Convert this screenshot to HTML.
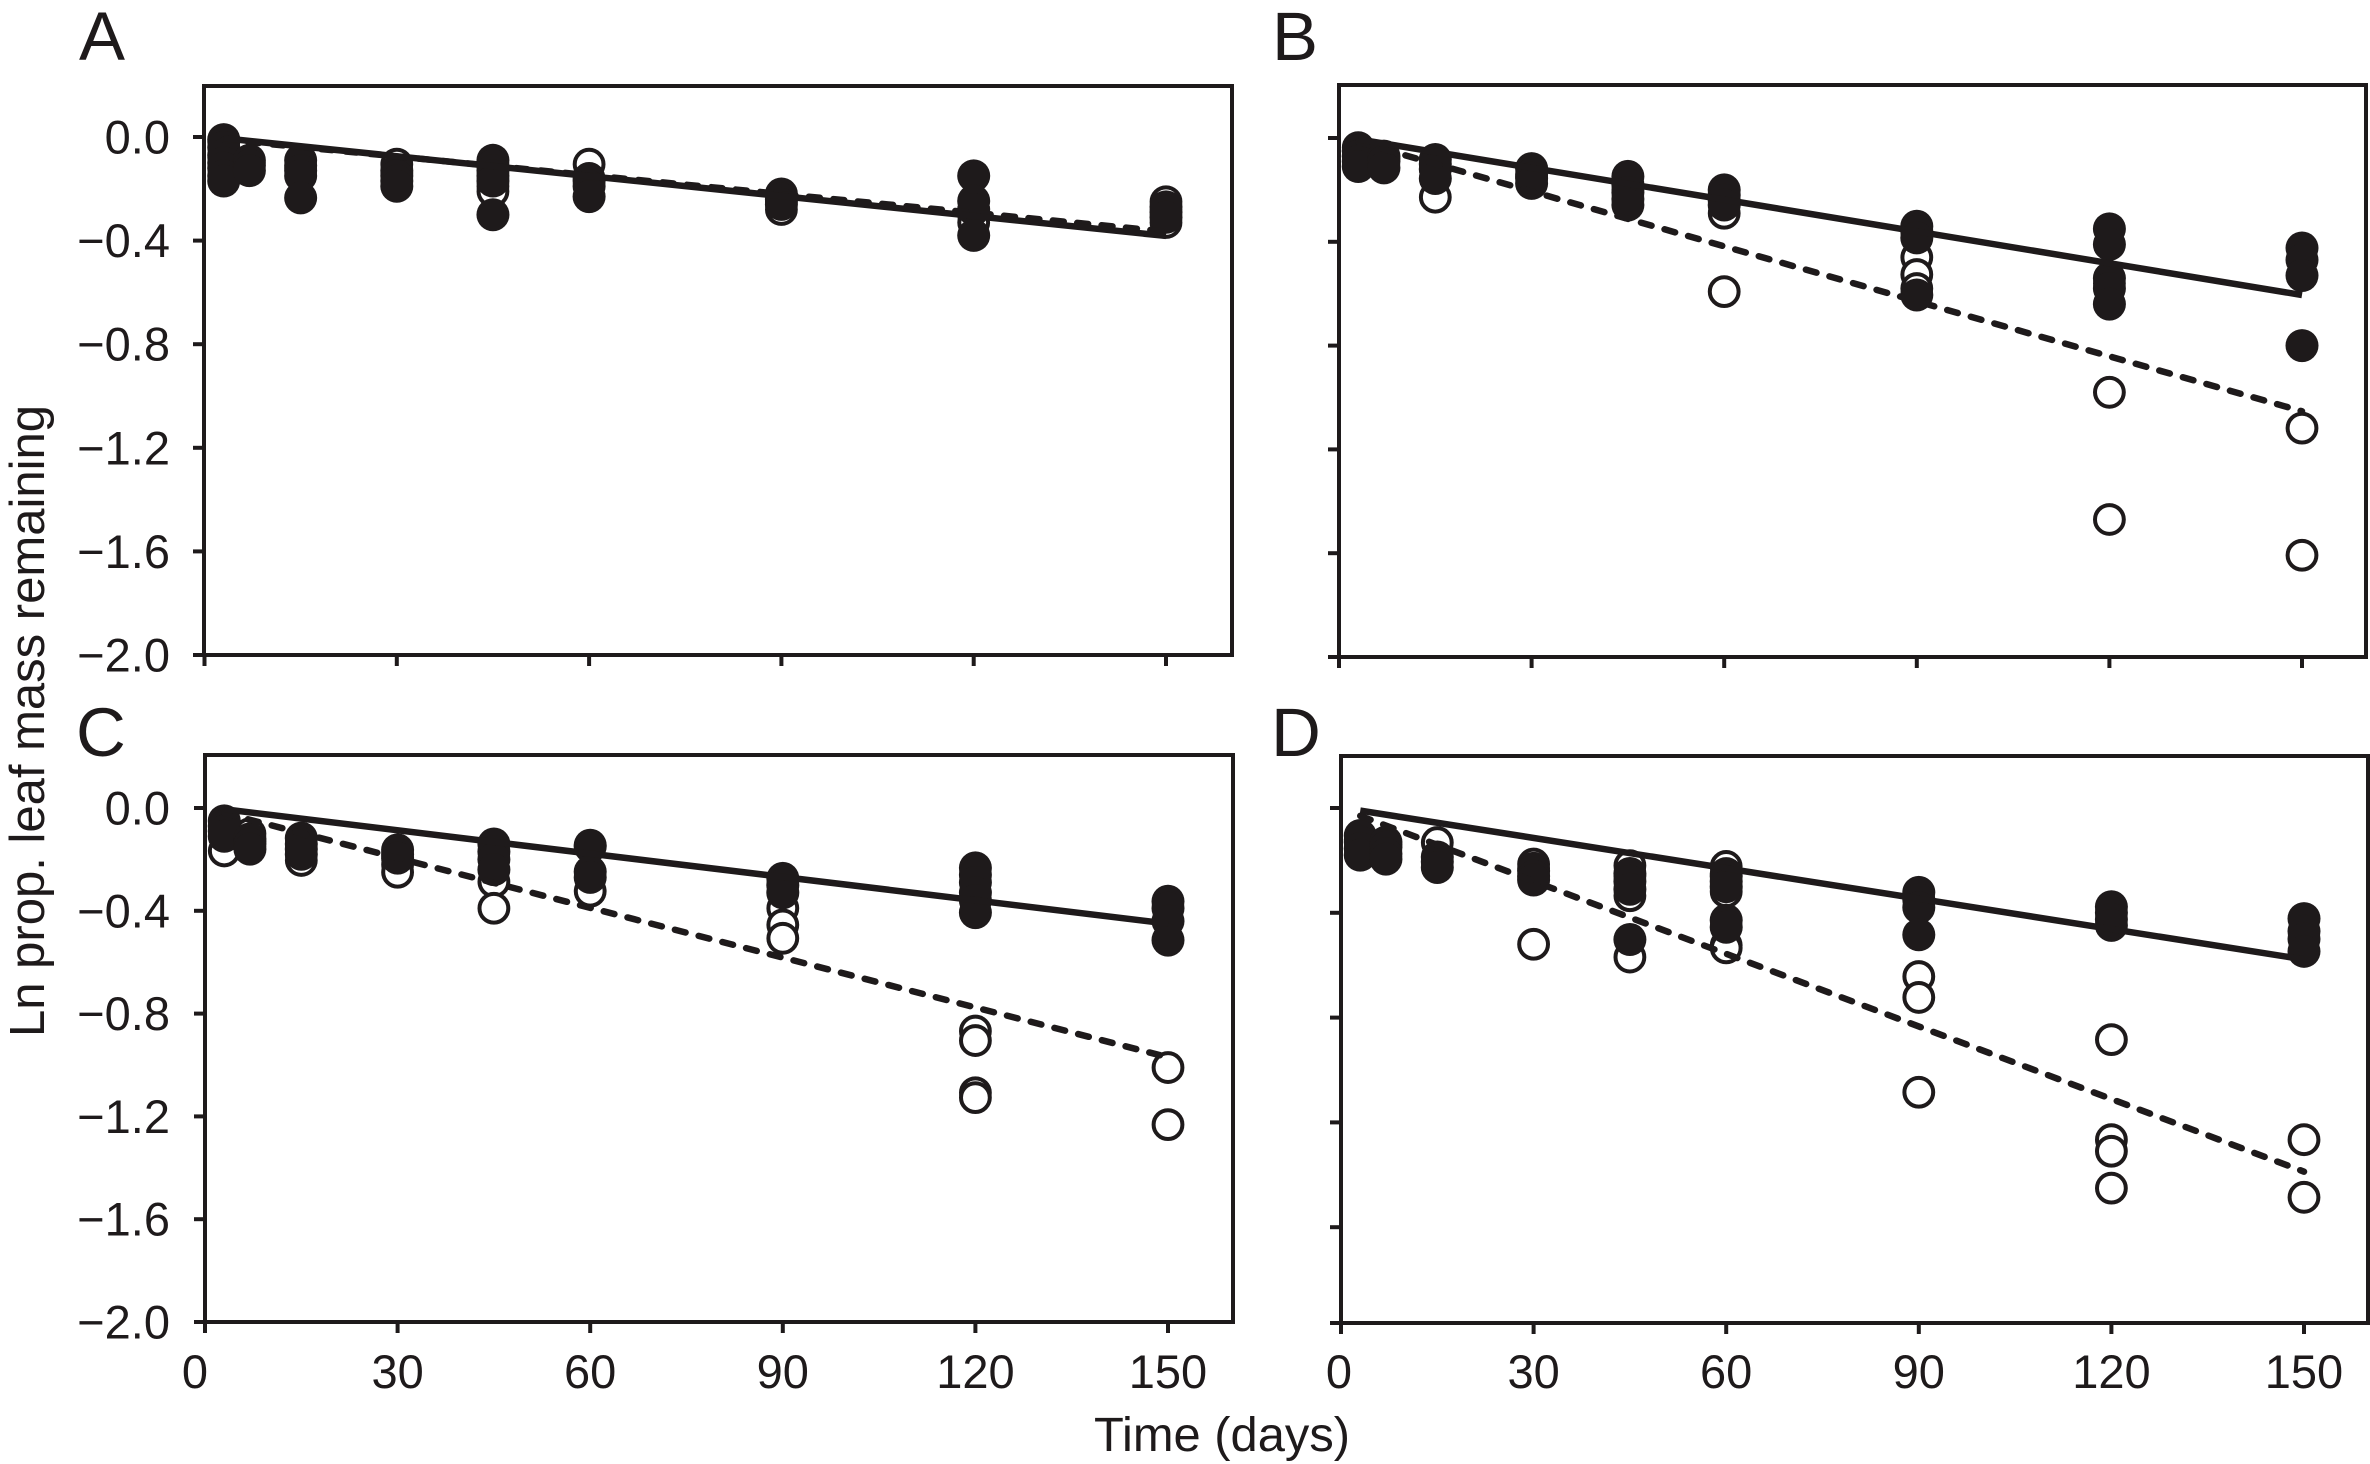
<!DOCTYPE html>
<html lang="en">
<head>
<meta charset="utf-8">
<title>Ln proportion of leaf mass remaining over time</title>
<style>
html,body{margin:0;padding:0;background:#fff;width:2370px;height:1464px;overflow:hidden}
svg{display:block;font-family:"Liberation Sans",Arial,sans-serif;fill:#1e1a1b}
</style>
</head>
<body>
<svg id="chart" xmlns="http://www.w3.org/2000/svg" width="2370" height="1464" viewBox="0 0 2370 1464">
  <rect x="0" y="0" width="2370" height="1464" fill="#fff"/>
  <text x="79" y="60" font-size="69">A</text>
  <text x="1272" y="60" font-size="69">B</text>
  <text x="76" y="756" font-size="69">C</text>
  <text x="1271" y="756" font-size="69">D</text>
  <text transform="translate(44,721) rotate(-90)" text-anchor="middle" font-size="49" textLength="632" lengthAdjust="spacingAndGlyphs">Ln prop. leaf mass remaining</text>
  <text x="1222" y="1451" text-anchor="middle" font-size="48" textLength="256" lengthAdjust="spacingAndGlyphs">Time (days)</text>
</svg>
<script>
// Shared axis data
const xTickValues = [0, 30, 60, 90, 120, 150];
const xTickLabels = ['0', '30', '60', '90', '120', '150'];
const yTickValues = [0, -0.4, -0.8, -1.2, -1.6, -2.0];
const yTickLabels = ['0.0', '\u22120.4', '\u22120.8', '\u22121.2', '\u22121.6', '\u22122.0'];
const yTickValuesD = [0, -0.4, -0.8, -1.2, -1.6, -1.966];
const sampleDays = [3, 7, 15, 30, 45, 60, 90, 120, 150];
const lineDays = [3, 150];

// Panel A
const aFilled = [
  [-0.01, -0.04, -0.07, -0.10, -0.12, -0.15, -0.17],
  [-0.09, -0.11, -0.13],
  [-0.09, -0.11, -0.13, -0.15, -0.235],
  [-0.13, -0.15, -0.17, -0.19],
  [-0.09, -0.11, -0.13, -0.15, -0.17, -0.30],
  [-0.17, -0.19, -0.23],
  [-0.22, -0.24, -0.26],
  [-0.15, -0.247, -0.28, -0.38],
  [-0.27, -0.29, -0.31]
];
const aOpen = [
  [-0.02, -0.08],
  [-0.10],
  [-0.12],
  [-0.105, -0.14],
  [-0.19, -0.21],
  [-0.105, -0.16],
  [-0.25, -0.28],
  [-0.30, -0.33],
  [-0.25, -0.33]
];
const aSolid = [-0.005, -0.382];
const aDashed = [-0.01, -0.365];

// Panel B
const bFilled = [
  [-0.05, -0.07, -0.09, -0.11],
  [-0.07, -0.09, -0.115],
  [-0.083, -0.10, -0.12, -0.156],
  [-0.118, -0.14, -0.155, -0.175],
  [-0.148, -0.18, -0.21, -0.235, -0.258],
  [-0.20, -0.22, -0.24, -0.258],
  [-0.34, -0.36, -0.385, -0.605],
  [-0.35, -0.41, -0.54, -0.58, -0.64],
  [-0.424, -0.47, -0.53, -0.80]
];
const bOpen = [
  [-0.037, -0.05],
  [-0.08],
  [-0.228],
  [-0.15],
  [-0.20],
  [-0.29, -0.592],
  [-0.46, -0.526, -0.58],
  [-0.56, -0.98, -1.47],
  [-1.118, -1.608]
];
const bSolid = [-0.005, -0.605];
const bDashed = [-0.015, -1.053];

// Panel C
const cFilled = [
  [-0.05, -0.07, -0.09, -0.11],
  [-0.12, -0.14, -0.16],
  [-0.117, -0.14, -0.16, -0.18],
  [-0.163, -0.18, -0.195],
  [-0.14, -0.17, -0.20, -0.24],
  [-0.145, -0.15, -0.248, -0.27],
  [-0.274, -0.30, -0.33],
  [-0.233, -0.26, -0.29, -0.33, -0.36, -0.407],
  [-0.363, -0.39, -0.44, -0.514]
];
const cOpen = [
  [-0.167],
  [-0.10, -0.13],
  [-0.204],
  [-0.22, -0.25],
  [-0.287, -0.39],
  [-0.324],
  [-0.39, -0.455, -0.507],
  [-0.868, -0.905, -1.108, -1.127],
  [-1.01, -1.232]
];
const cSolid = [-0.005, -0.45];
const cDashed = [-0.02, -0.97];

// Panel D
const dFilled = [
  [-0.105, -0.13, -0.155, -0.18],
  [-0.13, -0.15, -0.175, -0.195],
  [-0.187, -0.205, -0.227],
  [-0.24, -0.26, -0.275],
  [-0.25, -0.28, -0.31, -0.502],
  [-0.26, -0.28, -0.30, -0.428, -0.455],
  [-0.322, -0.35, -0.38, -0.484],
  [-0.377, -0.40, -0.425, -0.448],
  [-0.422, -0.47, -0.50, -0.547]
];
const dOpen = [
  [-0.12],
  [-0.14],
  [-0.132],
  [-0.214, -0.23, -0.52],
  [-0.22, -0.26, -0.335, -0.569],
  [-0.223, -0.25, -0.32, -0.524, -0.534],
  [-0.643, -0.723, -1.085],
  [-0.884, -1.266, -1.31, -1.451],
  [-1.266, -1.486]
];
const dSolid = [-0.01, -0.578];
const dDashed = [-0.03, -1.388];

// Panel layouts (pixel geometry only)
const panels = [
  {id:'a', left:204, right:1232, top:86, bottom:655, x0:204.5, xk:6.41, y0:137, yk:259, filled:aFilled, open:aOpen, solid:aSolid, dashed:aDashed, yTicks:yTickValues, showY:true, showX:false, zeroDx:0},
  {id:'b', left:1339, right:2366, top:85, bottom:657, x0:1339, xk:6.42, y0:138, yk:259.5, filled:bFilled, open:bOpen, solid:bSolid, dashed:bDashed, yTicks:yTickValues, showY:false, showX:false, zeroDx:0},
  {id:'c', left:205, right:1233, top:755, bottom:1322, x0:205, xk:6.42, y0:808, yk:257, filled:cFilled, open:cOpen, solid:cSolid, dashed:cDashed, yTicks:yTickValues, showY:true, showX:true, zeroDx:-10},
  {id:'d', left:1341, right:2368, top:756, bottom:1323, x0:1341, xk:6.42, y0:808, yk:262, filled:dFilled, open:dOpen, solid:dSolid, dashed:dDashed, yTicks:yTickValuesD, showY:false, showX:true, zeroDx:-2}
];

const INK = '#1e1a1b';
const NS = 'http://www.w3.org/2000/svg';
const root = document.getElementById('chart');

function make(tag, attrs, parent) {
  const node = document.createElementNS(NS, tag);
  for (const key in attrs) node.setAttribute(key, attrs[key]);
  parent.appendChild(node);
  return node;
}

panels.forEach(function (p) {
  const xAt = function (t) { return p.x0 + p.xk * t; };
  const yAt = function (v) { return p.y0 - p.yk * v; };

  const group = make('g', {}, root);
  
  

  // open circles first, then filled ones
  p.open.forEach(function (col, i) {
    col.forEach(function (v) {
      const c = make('circle', {cx: xAt(sampleDays[i]), cy: yAt(v), r: 14.4, fill: '#fff', stroke: INK, 'stroke-width': 4}, group);
      
      
    });
  });
  p.filled.forEach(function (col, i) {
    col.forEach(function (v) {
      const c = make('circle', {cx: xAt(sampleDays[i]), cy: yAt(v), r: 16.5, fill: INK}, group);
      
      
    });
  });

  // regression lines
  const dash = make('line', {x1: xAt(lineDays[0]), y1: yAt(p.dashed[0]), x2: xAt(lineDays[1]), y2: yAt(p.dashed[1]), stroke: INK, 'stroke-width': 6.5, 'stroke-dasharray': '11 13.5', 'stroke-linecap': 'round'}, group);
  
  
  const solid = make('line', {x1: xAt(lineDays[0]), y1: yAt(p.solid[0]), x2: xAt(lineDays[1]), y2: yAt(p.solid[1]), stroke: INK, 'stroke-width': 6.5}, group);
  
  

  // frame
  const frame = make('rect', {x: p.left, y: p.top, width: p.right - p.left, height: p.bottom - p.top, fill: 'none', stroke: INK, 'stroke-width': 4}, group);
  
  

  // y ticks
  p.yTicks.forEach(function (v, i) {
    const y = i === p.yTicks.length - 1 ? p.bottom : yAt(v);
    const tick = make('line', {x1: p.left - 11, y1: y, x2: p.left, y2: y, stroke: INK, 'stroke-width': 4}, group);
    
    
    if (p.showY) {
      const label = make('text', {x: 170, y: y + 16.5, 'text-anchor': 'end', 'font-size': 47}, group);
      label.textContent = yTickLabels[i];
      
      
    }
  });

  // x ticks
  xTickValues.forEach(function (t, i) {
    const x = xAt(t);
    const tick = make('line', {x1: x, y1: p.bottom, x2: x, y2: p.bottom + 11, stroke: INK, 'stroke-width': 4}, group);
    
    
    if (p.showX) {
      const label = make('text', {x: x + (t === 0 ? p.zeroDx : 0), y: 1388, 'text-anchor': 'middle', 'font-size': 47}, group);
      label.textContent = xTickLabels[i];
      
      
    }
  });
});
</script>
</body>
</html>
